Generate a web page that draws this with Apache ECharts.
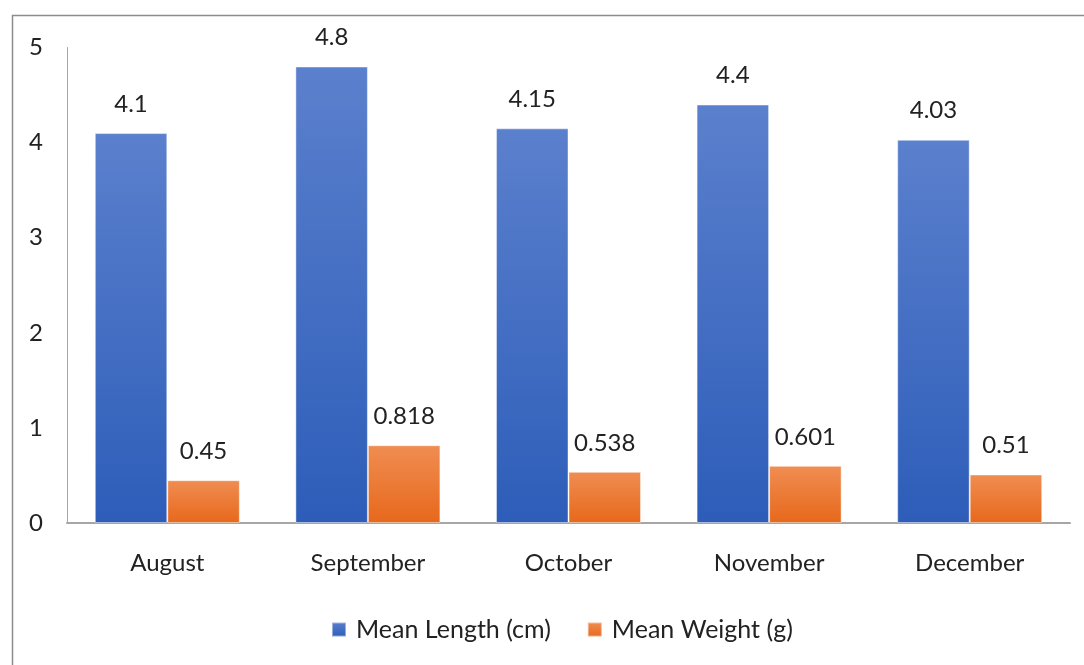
<!DOCTYPE html>
<html>
<head>
<meta charset="utf-8">
<style>
  html, body { margin: 0; padding: 0; background: #fff; }
  #chart { width: 1084px; height: 665px; }
</style>
<script src="https://cdn.jsdelivr.net/npm/echarts@6/dist/echarts.min.js"></script>
</head>
<body>
<div id="chart"></div>
<script>
const months = ['August', 'September', 'October', 'November', 'December'];
const meanLength = [4.1, 4.8, 4.15, 4.4, 4.03];
const meanWeight = [0.45, 0.818, 0.538, 0.601, 0.51];
const yTicks = [0, 1, 2, 3, 4, 5];

const FONT = 'Lato';
const FS = 24;

const blueFill = new echarts.graphic.LinearGradient(0, 0, 0, 1, [
  { offset: 0, color: '#5b80cd' },
  { offset: 1, color: '#2d5db9' }
]);
const orangeFill = new echarts.graphic.LinearGradient(0, 0, 0, 1, [
  { offset: 0, color: '#f08d52' },
  { offset: 1, color: '#e7681b' }
]);

const labelStyle = {
  show: true,
  position: 'top',
  distance: 17,
  fontFamily: FONT,
  fontSize: FS,
  color: '#222'
};

const chart = echarts.init(document.getElementById('chart'), null, { renderer: 'canvas' });
chart.setOption({
  animation: false,
  backgroundColor: '#fff',
  textStyle: { fontFamily: FONT },
  grid: { left: 67, right: 14, top: 47.5, bottom: 142, containLabel: false },
  legend: {
    left: 326,
    top: 612,
    itemWidth: 14,
    itemHeight: 14,
    itemGap: 36,
    icon: 'rect',
    textStyle: { fontFamily: FONT, fontSize: 25, color: '#222', padding: [0, 0, 0, 5] },
    data: ['Mean Length (cm)', 'Mean Weight (g)']
  },
  xAxis: {
    type: 'category',
    data: months,
    axisLine: { lineStyle: { color: '#a6a6a6', width: 2 } },
    axisTick: { show: false },
    axisLabel: { fontFamily: FONT, fontSize: FS, color: '#222', margin: 28 }
  },
  yAxis: {
    type: 'value',
    min: yTicks[0],
    max: yTicks[yTicks.length - 1],
    interval: 1,
    splitLine: { show: false },
    axisLine: { show: true, lineStyle: { color: '#a6a6a6', width: 1 } },
    axisTick: { show: false },
    axisLabel: { fontFamily: FONT, fontSize: FS, color: '#222', margin: 24 }
  },
  series: [
    {
      name: 'Mean Length (cm)',
      type: 'bar',
      data: meanLength,
      barGap: '0%',
      barCategoryGap: '27.7%',
      itemStyle: { color: blueFill, borderColor: 'rgba(255,255,255,0.45)', borderWidth: 1 },
      label: labelStyle
    },
    {
      name: 'Mean Weight (g)',
      type: 'bar',
      data: meanWeight,
      itemStyle: { color: orangeFill, borderColor: 'rgba(255,255,255,0.45)', borderWidth: 1 },
      label: labelStyle
    }
  ],
  graphic: [
    {
      type: 'polyline',
      shape: { points: [[12.5, 665], [12.5, 15.5], [1084, 15.5]] },
      style: { stroke: '#8c8c8c', lineWidth: 1.5, fill: null },
      silent: true
    }
  ]
});
</script>
</body>
</html>
